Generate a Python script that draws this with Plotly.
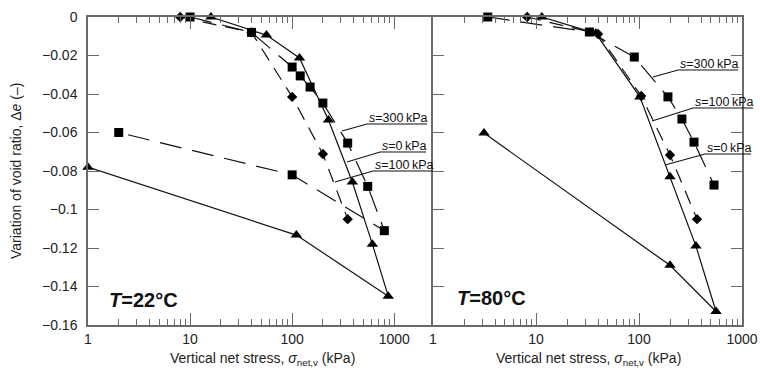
import plotly.graph_objects as go

# ---------------- data ----------------
# T = 22 C panel
l_s0_x = [16, 56, 118, 227, 389, 611, 874, 110, 1]
l_s0_y = [0, -0.0094, -0.0213, -0.0535, -0.0857, -0.118, -0.145, -0.1133, -0.078]
l_s300_x = [10, 40, 100, 120, 150, 200, 350, 550, 800, 100, 2]
l_s300_y = [0, -0.008, -0.026, -0.0306, -0.0364, -0.0447, -0.0655, -0.088, -0.111, -0.082, -0.060]
l_s100_x = [8, 40, 100, 200, 350]
l_s100_y = [0, -0.008, -0.0415, -0.0712, -0.105]

# T = 80 C panel
r_s0_x = [11.4, 38, 102, 200, 357, 560, 200, 3.13]
r_s0_y = [0, -0.0085, -0.0415, -0.083, -0.119, -0.153, -0.129, -0.0603]
r_s300_x = [3.4, 33, 90, 191, 261, 342, 535]
r_s300_y = [0, -0.0078, -0.0208, -0.0415, -0.053, -0.065, -0.0873]
r_s100_x = [8.2, 40, 105, 200, 366]
r_s100_y = [0, -0.0088, -0.041, -0.0717, -0.105]

y_tickvals = [0, -0.02, -0.04, -0.06, -0.08, -0.1, -0.12, -0.14, -0.16]
y_ticktext = ["0", "\u22120.02", "\u22120.04", "\u22120.06", "\u22120.08", "\u22120.1",
              "\u22120.12", "\u22120.14", "\u22120.16"]
x_tickvals = [1, 10, 100, 1000]
x_ticktext = ["1", "10", "100", "1000"]
x_minor = [2, 3, 4, 5, 6, 7, 8, 9, 20, 30, 40, 50, 60, 70, 80, 90, 200, 300, 400, 500, 600, 700, 800, 900]

# ---------------- layout helpers ----------------
W, H = 760, 372
FONT = "Liberation Sans, Arial, sans-serif"
AX = "#6a6a6a"


def px(x):
    return x / W


def py(y):
    return 1 - y / H


fig = go.Figure()

line_w = 1.2
series = [
    ("x", "y", l_s0_x, l_s0_y, "triangle-up", 10, "solid"),
    ("x", "y", l_s300_x, l_s300_y, "square", 9, "22px,11px"),
    ("x", "y", l_s100_x, l_s100_y, "diamond", 8, "14px,9px"),
    ("x2", "y2", r_s0_x, r_s0_y, "triangle-up", 10, "solid"),
    ("x2", "y2", r_s300_x, r_s300_y, "square", 9, "22px,11px"),
    ("x2", "y2", r_s100_x, r_s100_y, "diamond", 8, "14px,9px"),
]
for xa, ya, xs, ys, sym, sz, dash in series:
    fig.add_trace(go.Scatter(
        x=xs, y=ys, xaxis=xa, yaxis=ya, mode="lines+markers",
        line=dict(color="#111", width=line_w, dash=dash),
        marker=dict(symbol=sym, size=sz, color="#000"),
        cliponaxis=False, showlegend=False, hoverinfo="skip"))

xcommon = dict(type="log", showline=True, linecolor=AX, linewidth=1.5, mirror="ticks",
               ticks="inside", ticklen=12, tickcolor=AX, tickwidth=1.2, automargin=False,
               tickvals=x_tickvals, ticktext=x_ticktext, showgrid=False, zeroline=False,
               tickfont=dict(family=FONT, size=14, color="#222"), ticklabelstandoff=0,
               minor=dict(ticks="inside", ticklen=6, tickcolor=AX, tickwidth=1.2,
                          tickvals=x_minor, showgrid=False))
ycommon = dict(range=[-0.16, 0], showline=True, linecolor=AX, linewidth=1.5, automargin=False,
               ticks="inside", ticklen=11, tickcolor=AX, tickwidth=1.2,
               tickvals=y_tickvals, ticktext=y_ticktext, showgrid=False, zeroline=False,
               tickfont=dict(family=FONT, size=14, color="#222"))

fig.update_layout(
    width=W, height=H, margin=dict(l=0, r=0, t=0, b=0),
    paper_bgcolor="white", plot_bgcolor="white",
    xaxis=dict(xcommon, domain=[px(88), px(433)], range=[0, 3.38], anchor="y"),
    yaxis=dict(ycommon, domain=[py(325), py(17)], anchor="x", mirror=False, ticklabelstandoff=6),
    xaxis2=dict(xcommon, domain=[px(433), px(742)], range=[0, 3], anchor="y2"),
    yaxis2=dict(ycommon, domain=[py(325), py(17)], anchor="x2", mirror="ticks",
                showticklabels=False),
)

anns = []
shapes = []

# axis titles
for cx in [262, 588]:
    anns.append(dict(x=px(cx), y=py(359), xref="paper", yref="paper", showarrow=False,
                     text="Vertical net stress, <i>\u03c3</i><sub>net,v</sub> (kPa)",
                     font=dict(family=FONT, size=14, color="#222"),
                     xanchor="center", yanchor="middle"))
anns.append(dict(x=px(16), y=py(171), xref="paper", yref="paper", showarrow=False,
                 text="Variation of void ratio, \u0394<i>e</i> (\u2013)", textangle=-90,
                 font=dict(family=FONT, size=14, color="#222"),
                 xanchor="center", yanchor="middle"))

# panel temperature labels
for tx, ty, t in [(107, 300, "22"), (455, 298, "80")]:
    anns.append(dict(x=px(tx), y=py(ty), xref="paper", yref="paper", showarrow=False,
                     text="<b><i>T</i>=" + t + "\u00b0C</b>",
                     font=dict(family=FONT, size=20, color="#111"),
                     xanchor="left", yanchor="middle"))

# suction labels with leader lines: (text, point x, point y, text left x, underline y, width)
labels = [
    ("300", 342, 131, 367, 124, 60),
    ("0", 347, 162, 380, 152, 46),
    ("100", 335, 182, 373, 171, 60),
    ("300", 653, 77, 678, 70, 60),
    ("100", 652, 121, 693, 108, 60),
    ("0", 665, 165, 705, 154, 46),
]
for s, x0, y0, x1, y1, w in labels:
    anns.append(dict(x=px(x1), y=py(y1 - 6), xref="paper", yref="paper", showarrow=False,
                     text="<i>s</i>=" + s + "\u2009kPa",
                     font=dict(family=FONT, size=12.5, color="#111"),
                     xanchor="left", yanchor="middle"))
    shapes.append(dict(type="path", xref="paper", yref="paper",
                       path="M %f,%f L %f,%f L %f,%f" % (px(x0), py(y0), px(x1), py(y1),
                                                          px(x1 + w), py(y1)),
                       line=dict(color="#111", width=1.1)))

fig.update_layout(annotations=anns, shapes=shapes)
fig.write_html("out.html")
